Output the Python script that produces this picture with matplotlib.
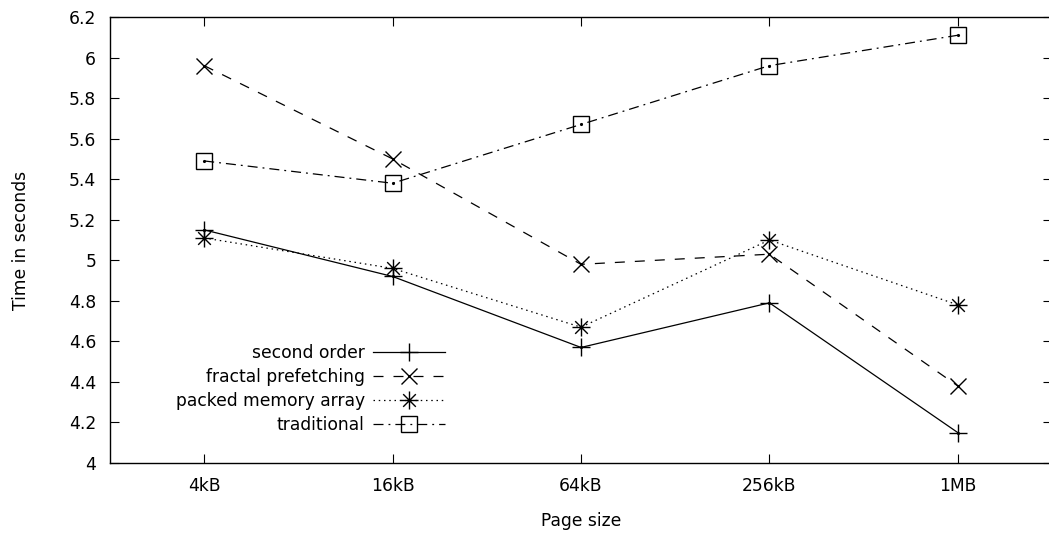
import matplotlib.pyplot as plt
import numpy as np
from matplotlib.path import Path

page_sizes = ["4kB", "16kB", "64kB", "256kB", "1MB"]
second_order = [5.15, 4.92, 4.57, 4.79, 4.15]
fractal_prefetching = [5.96, 5.50, 4.98, 5.03, 4.38]
packed_memory_array = [5.11, 4.96, 4.67, 5.10, 4.78]
traditional = [5.49, 5.38, 5.67, 5.96, 6.11]

plt.rcParams['font.family'] = 'DejaVu Sans'
plt.rcParams['font.size'] = 12.3

# gnuplot-style star: plus and cross drawn together
star = Path([(-1, 0), (1, 0), (0, -1), (0, 1),
             (-0.7, -0.7), (0.7, 0.7), (-0.7, 0.7), (0.7, -0.7)],
            [Path.MOVETO, Path.LINETO] * 4)

fig = plt.figure(figsize=(10.49, 5.35), dpi=100)
ax = fig.add_axes([110 / 1049, 72 / 535, 942 / 1049, 446 / 535])

x = np.arange(len(page_sizes))
lw = 0.9
ax.plot(x, second_order, color='black', lw=lw, ls='-', marker='+', ms=13, mew=1.0,
        label="second order")
ax.plot(x, fractal_prefetching, color='black', lw=lw, ls=(0, (8, 8)), marker='x', ms=11, mew=1.0,
        label="fractal prefetching")
ax.plot(x, packed_memory_array, color='black', lw=lw, ls=(0, (1.2, 3)), marker=star, ms=13, mew=1.0,
        label="packed memory array")
ax.plot(x, traditional, color='black', lw=lw, ls=(0, (8, 4, 1.5, 4)), marker='s', ms=11, mew=1.0,
        mfc='none', label="traditional")
for ys in (second_order, fractal_prefetching, packed_memory_array, traditional):
    ax.plot(x, ys, ls='none', marker='.', ms=2.5, color='black')

ax.set_xlim(-0.5, 4.5)
ax.set_ylim(4, 6.2)
ax.set_xticks(x)
ax.set_xticklabels(page_sizes)
ax.set_yticks(np.arange(4, 6.21, 0.2))
ax.set_yticklabels(["4", "4.2", "4.4", "4.6", "4.8", "5", "5.2", "5.4", "5.6", "5.8", "6", "6.2"])
ax.tick_params(direction='in', length=6.5, width=0.8, top=True, right=True, pad=10)
for spine in ax.spines.values():
    spine.set_linewidth(1.0)

ax.set_xlabel("Page size", labelpad=12)
ax.set_ylabel("Time in seconds", labelpad=28)

ax.legend(loc='upper right', bbox_to_anchor=((445 - 110) / 942, (463 - 344) / 446),
          markerfirst=False, frameon=False, handlelength=4.2, handletextpad=0.5,
          labelspacing=0.35, borderpad=0, borderaxespad=0)

fig.savefig("out.png", dpi=100)
